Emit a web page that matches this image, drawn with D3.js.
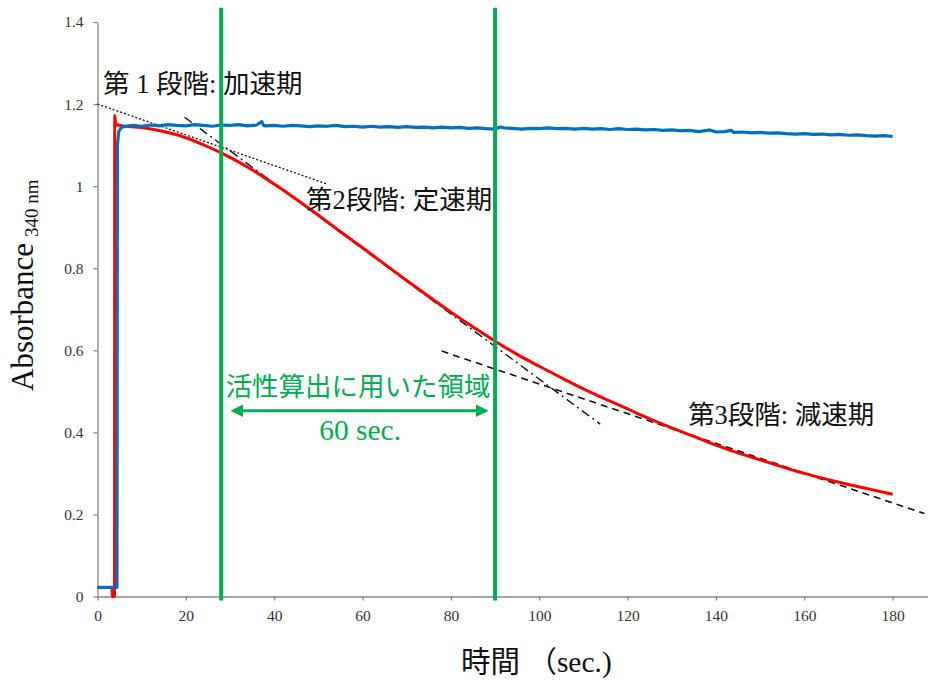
<!DOCTYPE html>
<html>
<head>
<meta charset="utf-8">
<script src="https://cdn.jsdelivr.net/npm/d3@7"></script>
<style>
  body { margin: 0; background: #fff; }
  svg text { font-family: "Liberation Serif", "Noto Sans CJK JP", serif; }
</style>
</head>
<body>
<svg id="chart" width="928" height="680"></svg>
<script>
// time (sec) / absorbance pairs
const redTrace = [
  [0, 0.022], [3.3, 0.022], [3.35, 0], [3.85, 0], [3.9, 1.172], [4.1, 1.152],
  [5, 1.148], [10, 1.143], [15, 1.133], [20, 1.118], [25, 1.096], [28, 1.081],
  [30, 1.070], [35, 1.040], [40, 1.005], [45, 0.968], [50, 0.929], [55, 0.889],
  [60, 0.850], [65, 0.810], [70, 0.770], [75, 0.731], [80, 0.693], [85, 0.657],
  [90, 0.622], [95, 0.590], [100, 0.561], [105, 0.533], [110, 0.506], [115, 0.481],
  [120, 0.457], [125, 0.433], [130, 0.411], [135, 0.390], [140, 0.369], [145, 0.350],
  [150, 0.333], [155, 0.316], [160, 0.300], [165, 0.286], [170, 0.273], [175, 0.261],
  [180, 0.249]
];

const blueStart = [[0, 0.022], [4.4, 0.022], [4.5, 1.10], [4.8, 1.133], [5.4, 1.143]];
const blueTimes = d3.range(6, 181, 2);
const blueValues = [
  1.145, 1.148, 1.146, 1.149, 1.147, 1.150, 1.148, 1.147, 1.150, 1.148,
  1.146, 1.149, 1.148, 1.150, 1.147, 1.149, 1.147, 1.148, 1.146, 1.148,
  1.147, 1.145, 1.147, 1.146, 1.148, 1.145, 1.146, 1.144, 1.146, 1.144,
  1.145, 1.143, 1.145, 1.143, 1.144, 1.142, 1.144, 1.142, 1.143, 1.141,
  1.142, 1.140, 1.139, 1.142, 1.141, 1.139, 1.141, 1.140, 1.142, 1.140,
  1.141, 1.139, 1.141, 1.139, 1.140, 1.138, 1.140, 1.138, 1.139, 1.137,
  1.138, 1.136, 1.137, 1.135, 1.136, 1.133, 1.136, 1.132, 1.133, 1.131,
  1.132, 1.130, 1.131, 1.129, 1.130, 1.128, 1.127, 1.128, 1.126, 1.127,
  1.125, 1.126, 1.124, 1.125, 1.123, 1.122, 1.123, 1.121
];
const blueSpikes = [[37.2, 1.157], [37.6, 1.148], [91.2, 1.144], [138.6, 1.137], [143.4, 1.136]];

// fitted phase lines: [t0, a0, t1, a1]
const phase1Line = [0, 1.200, 52, 1.005];
const phase2Line = [19.7, 1.168, 113.8, 0.420];
const phase3Line = [77.9, 0.598, 187.2, 0.202];

const regionBounds = [28, 90];

const xTicks = [0, 20, 40, 60, 80, 100, 120, 140, 160, 180];
const yTicks = [0, 0.2, 0.4, 0.6, 0.8, 1.0, 1.2, 1.4];

const GREEN = '#00b050';

const svg = d3.select('#chart');

const x = d3.scaleLinear().domain([0, 188]).range([97.5, 928]);
const y = d3.scaleLinear().domain([0, 1.4]).range([596.5, 22]);

// axes
const xAxis = svg.append('g')
  .attr('transform', 'translate(0,' + y(0) + ')')
  .call(d3.axisBottom(x).tickValues(xTicks).tickSize(4).tickPadding(9).tickSizeOuter(0));

const yAxis = svg.append('g')
  .attr('transform', 'translate(' + x(0) + ',0)')
  .call(d3.axisLeft(y).tickValues(yTicks).tickSize(4).tickPadding(10).tickSizeOuter(0)
    .tickFormat(d => String(+d.toFixed(1))));

[xAxis, yAxis].forEach(g => {
  g.select('.domain').attr('stroke', '#868686').attr('stroke-width', 1.3);
  g.selectAll('.tick line').attr('stroke', '#868686').attr('stroke-width', 1.3);
  g.selectAll('.tick text')
    .attr('fill', '#333')
    .style('font-size', '15.5px')
    .style('font-family', '"Liberation Serif", serif');
});

// fitted lines
function fitLine(p, dash, width) {
  svg.append('line')
    .attr('x1', x(p[0])).attr('y1', y(p[1]))
    .attr('x2', x(p[2])).attr('y2', y(p[3]))
    .attr('stroke', '#111')
    .attr('stroke-width', width)
    .attr('stroke-dasharray', dash);
}
fitLine(phase1Line, '2,2', 1.3);
fitLine(phase2Line, '9,4,2,4', 1.4);
fitLine(phase3Line, '7,5', 1.6);

const line = d3.line().x(d => x(d[0])).y(d => y(d[1]));

svg.append('path')
  .datum(redTrace)
  .attr('fill', 'none')
  .attr('stroke', '#ff0000')
  .attr('stroke-width', 3)
  .attr('d', line.curve(d3.curveMonotoneX));

const blueTrace = blueStart
  .concat(blueTimes.map((t, i) => [t, blueValues[i]]))
  .concat(blueSpikes)
  .sort((a, b) => a[0] - b[0]);

svg.append('path')
  .datum(blueTrace)
  .attr('fill', 'none')
  .attr('stroke', '#0070c0')
  .attr('stroke-width', 3.2)
  .attr('stroke-linejoin', 'round')
  .attr('d', line.curve(d3.curveLinear));

// region used for activity calculation
svg.selectAll('.bound')
  .data(regionBounds)
  .join('line')
  .attr('class', 'bound')
  .attr('x1', d => x(d)).attr('x2', d => x(d))
  .attr('y1', y(1.435)).attr('y2', y(-0.01))
  .attr('stroke', GREEN)
  .attr('stroke-width', 4);

const defs = svg.append('defs');
defs.append('marker')
  .attr('id', 'arrow')
  .attr('viewBox', '0 0 10 10')
  .attr('refX', 8).attr('refY', 5)
  .attr('markerWidth', 4.2).attr('markerHeight', 4.2)
  .attr('orient', 'auto-start-reverse')
  .append('path')
  .attr('d', 'M0,0L10,5L0,10Z')
  .attr('fill', GREEN);

svg.append('line')
  .attr('x1', x(regionBounds[0]) + 12).attr('x2', x(regionBounds[1]) - 9)
  .attr('y1', y(0.4527)).attr('y2', y(0.4527))
  .attr('stroke', GREEN)
  .attr('stroke-width', 3)
  .attr('marker-start', 'url(#arrow)')
  .attr('marker-end', 'url(#arrow)');

const mid = (regionBounds[0] + regionBounds[1]) / 2;

svg.append('text')
  .attr('x', x(mid)).attr('y', y(0.4886))
  .attr('text-anchor', 'middle')
  .attr('fill', GREEN)
  .style('font-size', '26.5px')
  .text('活性算出に用いた領域');

svg.append('text')
  .attr('x', x(mid) + 2).attr('y', y(0.381))
  .attr('text-anchor', 'middle')
  .attr('fill', GREEN)
  .style('font-size', '29.5px')
  .text('60 sec.');

// phase labels
const phaseLabels = [
  { t: 1.25, a: 1.227, text: '第 1 段階: 加速期' },
  { t: 47.2, a: 0.944, text: '第2段階: 定速期' },
  { t: 133.7, a: 0.420, text: '第3段階: 減速期' }
];
svg.selectAll('.phase')
  .data(phaseLabels)
  .join('text')
  .attr('class', 'phase')
  .attr('x', d => x(d.t)).attr('y', d => y(d.a))
  .attr('fill', '#111')
  .style('font-size', '26.5px')
  .text(d => d.text);

// axis titles
svg.append('text')
  .attr('x', 461).attr('y', 672)
  .attr('fill', '#111')
  .style('font-size', '29.5px')
  .text('時間 （sec.)');

const yTitle = svg.append('text')
  .attr('transform', 'translate(33,391) rotate(-90)')
  .attr('fill', '#111')
  .style('font-size', '31px');
yTitle.append('tspan').text('Absorbance');
yTitle.append('tspan')
  .attr('dx', 6).attr('dy', 5)
  .style('font-size', '19px')
  .text('340 nm');
</script>
</body>
</html>
